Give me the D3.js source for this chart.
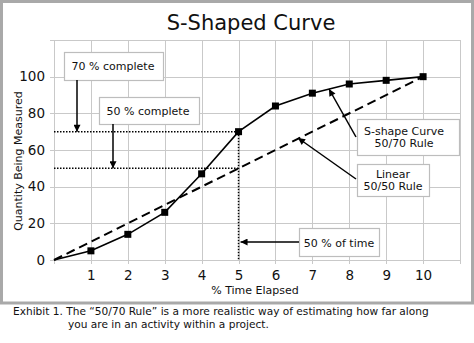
<!DOCTYPE html>
<html><head><meta charset="utf-8">
<script src="https://cdn.jsdelivr.net/npm/d3@7"></script>
<style>
html,body{margin:0;padding:0;background:#fff;}
svg text{font-family:"DejaVu Sans",sans-serif;fill:#111;}
</style></head>
<body>
<svg id="chart" width="474" height="343"></svg>
<script>
// ---- data ----
const timeTicks = [1,2,3,4,5,6,7,8,9,10];
const valueTicks = [0,20,40,60,80,100];
const sCurveX = [0,1,2,3,4,5,6,7,8,9,10];
const sCurveY = [0,5,14,26,47,70,84,91,96,98,100];
const linearX = [0,10];
const linearY = [0,100];
const refLevels = [70,50];      // % complete reference lines
const refTime = 5;              // 50 % of time
const titleText = "S-Shaped Curve";
const xLabel = "% Time Elapsed";
const yLabel = "Quantity Being Measured";
const captionLines = [
  "Exhibit 1. The \u201C50/70 Rule\u201D is a more realistic way of estimating how far along",
  "you are in an activity within a project."
];

const svg = d3.select("#chart");
const x = d3.scaleLinear().domain([0,11]).range([54,460]);
const y = d3.scaleLinear().domain([0,120]).range([260,40]);

// outer frame
svg.append("rect").attr("x",1.5).attr("y",1.5).attr("width",471).attr("height",301.5)
  .attr("fill","none").attr("stroke","#a9a9a9").attr("stroke-width",3);

// title
svg.append("text").attr("x",251).attr("y",30).attr("text-anchor","middle")
  .style("font-size","21px").text(titleText);

// grid
const grid = svg.append("g").attr("stroke","#c9c9c9").attr("stroke-width",1);
grid.selectAll("line.v").data(d3.range(0,12)).join("line")
  .attr("x1",d=>Math.round(x(d))+0.5).attr("x2",d=>Math.round(x(d))+0.5)
  .attr("y1",y(120)).attr("y2",y(0)+4);
grid.selectAll("line.h").data(d3.range(0,121,20)).join("line")
  .attr("y1",d=>Math.round(y(d))+0.5).attr("y2",d=>Math.round(y(d))+0.5)
  .attr("x1",x(0)-4).attr("x2",x(11));

// axes labels
const xAxis = d3.axisBottom(x).tickValues(timeTicks).tickSize(0).tickPadding(10);
const gx = svg.append("g").attr("transform",`translate(0,${y(0)})`).call(xAxis);
gx.select(".domain").remove();
gx.selectAll("text").style("font-size","13.5px").style("font-family","DejaVu Sans").attr("fill","#111");
const yAxis = d3.axisLeft(y).tickValues(valueTicks).tickSize(0).tickPadding(9);
const gy = svg.append("g").attr("transform",`translate(${x(0)},0)`).call(yAxis);
gy.select(".domain").remove();
gy.selectAll("text").style("font-size","13.5px").style("font-family","DejaVu Sans").attr("fill","#111");

svg.append("text").attr("x",255).attr("y",294).attr("text-anchor","middle")
  .style("font-size","11px").text(xLabel);
svg.append("text").attr("transform","translate(22,161) rotate(-90)").attr("text-anchor","middle")
  .style("font-size","11px").text(yLabel);

// reference dotted lines
const dotted = svg.append("g").attr("stroke","#000").attr("stroke-width",1.5).attr("stroke-dasharray","1.5,1.5");
const sAt5 = sCurveY[sCurveX.indexOf(refTime)];
refLevels.forEach(v=>{
  dotted.append("line").attr("x1",x(0)).attr("x2",x(refTime)).attr("y1",y(v)).attr("y2",y(v));
});
dotted.append("line").attr("x1",x(refTime)).attr("x2",x(refTime)).attr("y1",y(sAt5)).attr("y2",y(0));

// linear dashed
svg.append("path").datum(linearX.map((d,i)=>[d,linearY[i]]))
  .attr("d",d3.line().x(d=>x(d[0])).y(d=>y(d[1])))
  .attr("fill","none").attr("stroke","#000").attr("stroke-width",2).attr("stroke-dasharray","9,5");

// S-curve
const sData = sCurveX.map((d,i)=>[d,sCurveY[i]]);
svg.append("path").datum(sData)
  .attr("d",d3.line().x(d=>x(d[0])).y(d=>y(d[1])))
  .attr("fill","none").attr("stroke","#000").attr("stroke-width",1.6);
svg.selectAll("rect.m").data(sData.slice(1)).join("rect")
  .attr("x",d=>x(d[0])-3.5).attr("y",d=>y(d[1])-3.5).attr("width",7).attr("height",7).attr("fill","#000");

// arrow marker
svg.append("defs").append("marker").attr("id","ah").attr("viewBox","0 0 10 10")
  .attr("refX",10).attr("refY",5).attr("markerWidth",9).attr("markerHeight",7)
  .attr("markerUnits","userSpaceOnUse").attr("orient","auto")
  .append("path").attr("d","M0,0L10,5L0,10Z").attr("fill","#000");

// annotation boxes
const boxes = [
  {x:64,y:52,w:99,h:28,lines:["70 % complete"],cx:113,cy:[70]},
  {x:99,y:97,w:100,h:27,lines:["50 % complete"],cx:148,cy:[115]},
  {x:357,y:119,w:102,h:36,lines:["S-shape Curve","50/70 Rule"],cx:404,cy:[135,147]},
  {x:357,y:164,w:72,h:32,lines:["Linear","50/50 Rule"],cx:393,cy:[178,190]},
  {x:299,y:228,w:80,h:28,lines:["50 % of time"],cx:339,cy:[247]}
];
const gb = svg.append("g");
boxes.forEach(b=>{
  gb.append("rect").attr("x",b.x+0.5).attr("y",b.y+0.5).attr("width",b.w).attr("height",b.h)
    .attr("fill","#fff").attr("stroke","#bdbdbd").attr("stroke-width",1.2);
  b.lines.forEach((t,i)=>{
    gb.append("text").attr("x",b.cx).attr("y",b.cy[i]).attr("text-anchor","middle")
      .style("font-size","11px").text(t);
  });
});

// arrows
const arrows = [
  {x1:77,y1:80,x2:77,y2:y(70)},
  {x1:113,y1:124,x2:113,y2:y(50)},
  {x1:356,y1:137,x2:329,y2:89},
  {x1:356,y1:179,x2:298,y2:138},
  {x1:299,y1:242,x2:x(refTime)+2,y2:242}
];
svg.selectAll("line.arr").data(arrows).join("line")
  .attr("x1",d=>d.x1).attr("y1",d=>d.y1).attr("x2",d=>d.x2).attr("y2",d=>d.y2)
  .attr("stroke","#000").attr("stroke-width",1.5).attr("marker-end","url(#ah)");

// caption
svg.append("text").attr("x",13).attr("y",315).style("font-size","10.6px").text(captionLines[0]);
svg.append("text").attr("x",68).attr("y",328).style("font-size","10.6px").text(captionLines[1]);
</script>
</body></html>
